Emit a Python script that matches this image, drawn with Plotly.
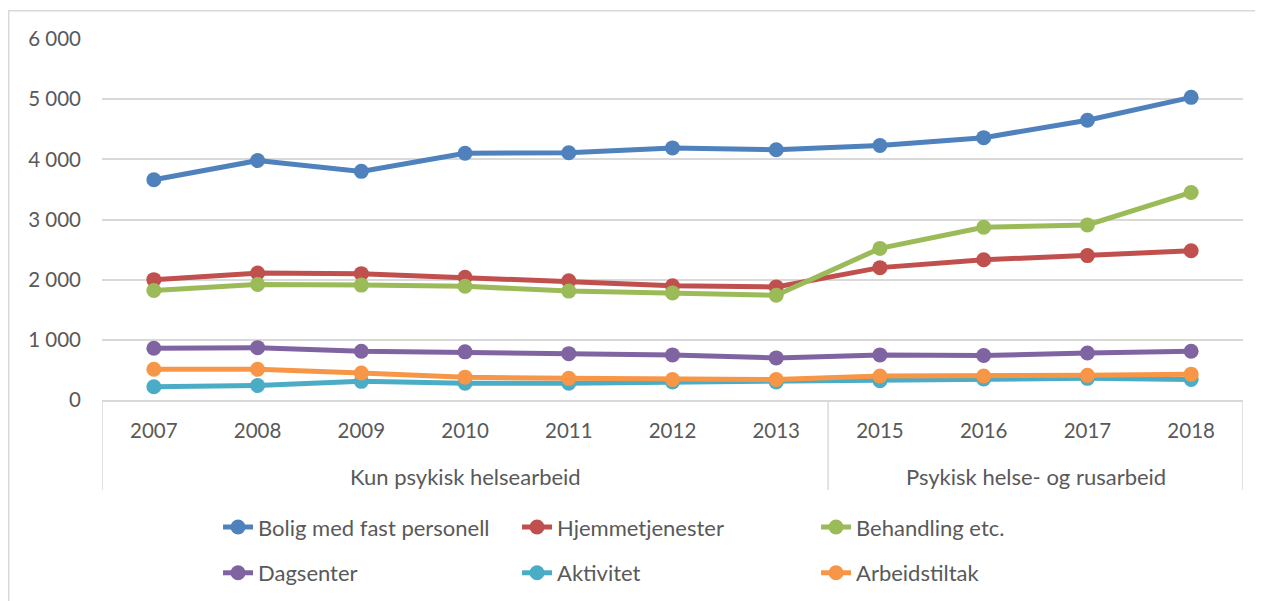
import plotly.graph_objects as go

years = ["2007", "2008", "2009", "2010", "2011", "2012", "2013", "2015", "2016", "2017", "2018"]
groups = ["Kun psykisk helsearbeid"] * 7 + ["Psykisk helse- og rusarbeid"] * 4

bolig = [3660, 3980, 3800, 4100, 4110, 4190, 4160, 4230, 4360, 4650, 5030]
hjemme = [2000, 2110, 2100, 2040, 1980, 1900, 1880, 2200, 2330, 2400, 2480]
behandling = [1820, 1920, 1910, 1890, 1810, 1780, 1740, 2520, 2870, 2910, 3450]
dagsenter = [860, 870, 810, 800, 770, 750, 700, 750, 740, 780, 810]
aktivitet = [220, 240, 310, 280, 280, 300, 300, 320, 350, 360, 340]
arbeid = [510, 510, 450, 380, 360, 340, 340, 400, 400, 410, 430]

series = [
    ("Bolig med fast personell", bolig, "#4F81BD", "legend"),
    ("Hjemmetjenester", hjemme, "#C0504D", "legend"),
    ("Behandling etc.", behandling, "#9BBB59", "legend"),
    ("Dagsenter", dagsenter, "#8064A2", "legend2"),
    ("Aktivitet", aktivitet, "#4BACC6", "legend2"),
    ("Arbeidstiltak", arbeid, "#F79646", "legend2"),
]

FONT = "Lato"
TXT = "#595959"
GRID = "#D9D9D9"

# figure is drawn with an 8px page offset -> figure size reduced accordingly
W, H = 1255, 593
ML, MR, MT, MB = 94, 20, 31, 201
PW, PH = W - ML - MR, H - MT - MB

fig = go.Figure()
for name, vals, col, lg in series:
    fig.add_trace(go.Scatter(
        x=years, y=vals, name=name, mode="lines+markers",
        line=dict(color=col, width=5), marker=dict(color=col, size=15),
        legend=lg,
    ))

# group labels and dividers derived from the group list
uniq = []
for g in groups:
    if g not in uniq:
        uniq.append(g)
annotations = []
bounds = [-0.5]
for g in uniq:
    idx = [i for i, gg in enumerate(groups) if gg == g]
    annotations.append(dict(
        x=sum(idx) / len(idx), xref="x", y=-76 / PH, yref="paper",
        text=g, showarrow=False, yanchor="middle",
        font=dict(family=FONT, size=22, color=TXT)))
    bounds.append(idx[-1] + 0.5)

shapes = [dict(type="line", xref="x", yref="paper", x0=b, x1=b, y0=0, y1=-90 / PH,
               line=dict(color=GRID, width=1.5)) for b in bounds]
shapes.append(dict(type="rect", xref="paper", yref="paper",
                   x0=(0.75 - ML) / PW, x1=(W + 20 - ML) / PW,
                   y0=-(H + 20 - MT - PH) / PH, y1=(MT + PH - 2.75) / PH,
                   line=dict(color=GRID, width=1.5), fillcolor="rgba(0,0,0,0)", layer="below"))

legend_common = dict(
    orientation="h", xanchor="left", yanchor="top",
    font=dict(family=FONT, size=22, color=TXT),
    entrywidth=254, entrywidthmode="pixels",
    bgcolor="rgba(0,0,0,0)",
)

fig.update_layout(
    width=W, height=H,
    margin=dict(l=ML, r=MR, t=MT, b=MB, autoexpand=False),
    paper_bgcolor="white", plot_bgcolor="white",
    separators=", ",
    font=dict(family=FONT, size=20.5, color=TXT),
    showlegend=True,
    legend=dict(x=0.1017, y=-0.294, **legend_common),
    legend2=dict(x=0.1017, y=-0.421, **legend_common),
    xaxis=dict(
        type="category", range=[-0.5, len(years) - 0.5],
        showgrid=False, showline=True, linecolor=GRID, linewidth=1.5,
        zeroline=False, ticks="", ticklabelstandoff=12, automargin=False,
        tickfont=dict(family=FONT, size=20.5, color=TXT),
    ),
    yaxis=dict(
        range=[0, 6000], tickvals=[0, 1000, 2000, 3000, 4000, 5000, 6000],
        tickformat=",d", showgrid=True, gridcolor=GRID, gridwidth=1.5,
        zeroline=False, showline=False, ticklabelstandoff=20, automargin=False,
        tickfont=dict(family=FONT, size=20.5, color=TXT),
    ),
    annotations=annotations,
    shapes=shapes,
)

fig.write_html("out.html")
